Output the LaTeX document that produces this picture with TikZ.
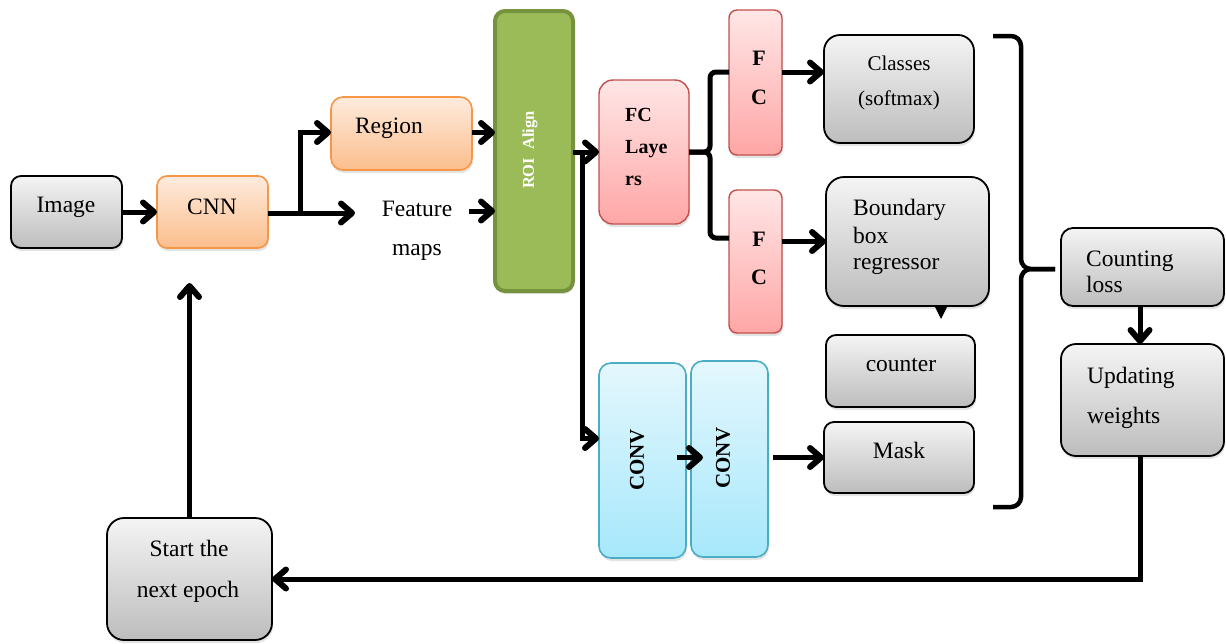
\documentclass[tikz,border=0pt]{standalone}
\usepackage{fontspec}
\setmainfont{Liberation Serif}
\usetikzlibrary{arrows.meta,shadows}

% A rounded box given by its two corners (in pixel-like units) and a corner radius
\newcommand\boxnode[7]{%
  \node[#2, rounded corners=#7, minimum width={(#5)-(#3)}, minimum height={(#6)-(#4)}]
    (#1) at ({((#3)+(#5))/2},{((#4)+(#6))/2}) {};}

\definecolor{grayT}{HTML}{F4F4F4}
\definecolor{grayB}{HTML}{BDBDBD}
\definecolor{orT}{HTML}{FEEBDD}
\definecolor{orB}{HTML}{FBBE8C}
\definecolor{orD}{HTML}{F79646}
\definecolor{roiF}{HTML}{9BBB59}
\definecolor{roiD}{HTML}{76923C}
\definecolor{pkT}{HTML}{FFE6E6}
\definecolor{pkB}{HTML}{FFA6A6}
\definecolor{pkD}{HTML}{C0504D}
\definecolor{cyT}{HTML}{E4F7FD}
\definecolor{cyB}{HTML}{A6E8FB}
\definecolor{cyD}{HTML}{4BACC6}

\begin{document}
\begin{tikzpicture}[x=1pt,y=-1pt,
  base/.style={draw, inner sep=0pt, outer sep=0pt,
    drop shadow={opacity=0.22, shadow xshift=1pt, shadow yshift=-3pt}},
  graybox/.style={base, line width=1.8pt, draw=black, top color=grayT, bottom color=grayB},
  orbox/.style={base, line width=1.6pt, draw=orD, top color=orT, bottom color=orB},
  roibox/.style={base, line width=4pt, draw=roiD, fill=roiF},
  pkbox/.style={base, line width=1.4pt, draw=pkD, top color=pkT, bottom color=pkB},
  cybox/.style={base, line width=1.6pt, draw=cyD, top color=cyT, bottom color=cyB},
  txt/.style={inner sep=0pt, font=\fontsize{23.5}{28}\selectfont},
  stxt/.style={inner sep=0pt, font=\fontsize{21}{25}\selectfont},
  btxt/.style={inner sep=0pt, font=\bfseries\fontsize{20}{22}\selectfont},
  ftxt/.style={inner sep=0pt, font=\bfseries\fontsize{22}{24}\selectfont},
  vtxt/.style={inner sep=0pt, font=\bfseries\fontsize{21}{23}\selectfont, rotate=90},
  line/.style={line width=5pt, draw=black},
  arr/.style={line, -{Straight Barb[length=11pt,width=19pt,line width=0pt 1.2,round]}},
  brace/.style={line width=4.5pt, rounded corners=10pt}
]
\useasboundingbox (0,0) rectangle (1226,643);

% ---- boxes ----
\boxnode{img}{graybox}{11}{176}{122}{248}{10pt}
\boxnode{cnn}{orbox}{157}{176}{268}{248}{10pt}
\boxnode{region}{orbox}{331}{97}{472}{170}{12pt}
\boxnode{roi}{roibox}{495}{11}{573}{291}{10pt}
\boxnode{fcl}{pkbox}{599}{80}{689}{224}{14pt}
\boxnode{fca}{pkbox}{729}{10}{782}{155}{8pt}
\boxnode{fcb}{pkbox}{729}{190}{782}{333}{8pt}
\boxnode{classes}{graybox}{824}{35}{974}{143}{16pt}
\boxnode{bbox}{graybox}{826}{177}{989}{306}{18pt}
\boxnode{counter}{graybox}{826}{335}{975}{407}{10pt}
\boxnode{mask}{graybox}{824}{422}{974}{493}{10pt}
\boxnode{count}{graybox}{1061}{228}{1224}{306}{12pt}
\boxnode{upd}{graybox}{1061}{344}{1224}{456}{15pt}
\boxnode{start}{graybox}{107}{518}{272}{640}{17pt}
\boxnode{conva}{cybox}{599}{363}{686}{558}{12pt}
\boxnode{convb}{cybox}{691}{361}{768}{557}{12pt}

% callout pointer under the regressor box
\fill (934,305) -- (948,305) -- (941,319) -- cycle;

% ---- texts ----
\node[txt, anchor=base] (timg) at (66,212) {Image};
\node[txt, anchor=base] (tcnn) at (212,214) {CNN};
\node[txt, anchor=base] (treg) at (389,133) {Region};
\node[txt, anchor=base] (tfeat) at (417,216) {Feature};
\node[txt, anchor=base] (tmaps) at (417,255) {maps};
\node[inner sep=0pt, font=\bfseries\fontsize{16.5}{18}\selectfont, text=white, rotate=90]
  (troi) at (530,150) {ROI\ \ Align};
\node[btxt, anchor=base west] (tfc1) at (625,121) {FC};
\node[btxt, anchor=base west] (tfc2) at (625,153) {Laye};
\node[btxt, anchor=base west] (tfc3) at (625,185) {rs};
\node[ftxt, anchor=base] (tfa1) at (759,65) {F};
\node[ftxt, anchor=base] (tfa2) at (759,104) {C};
\node[ftxt, anchor=base] (tfb1) at (759,246) {F};
\node[ftxt, anchor=base] (tfb2) at (759,284) {C};
\node[stxt, anchor=base] (tcls1) at (899,70) {Classes};
\node[stxt, anchor=base] (tcls2) at (899,105) {(softmax)};
\node[txt, anchor=base west] (tbb1) at (853,215) {Boundary};
\node[txt, anchor=base west] (tbb2) at (853,243) {box};
\node[txt, anchor=base west] (tbb3) at (853,269) {regressor};
\node[txt, anchor=base] (tcounter) at (901,371) {counter};
\node[txt, anchor=base] (tmask) at (899,458) {Mask};
\node[txt, anchor=base west] (tcl1) at (1086,266) {Counting};
\node[txt, anchor=base west] (tcl2) at (1086,292) {loss};
\node[txt, anchor=base west] (tup1) at (1087,383) {Updating};
\node[txt, anchor=base west] (tup2) at (1087,423) {weights};
\node[txt, anchor=base] (tst1) at (189,556) {Start the};
\node[txt, anchor=base] (tst2) at (188,597) {next epoch};
\node[vtxt] (tcva) at (637,460) {CONV};
\node[vtxt] (tcvb) at (723,458) {CONV};

% ---- connectors ----
\coordinate (split) at (300,213);
\coordinate (fmtip) at (355,213);
\coordinate (fmout) at (469,211);
\coordinate (rdown) at (582,152);
\coordinate (fork) at (710,152);

\draw[arr] (img.east) -- (cnn.west);
\draw[line] (cnn.east |- split) -- (split);
\draw[arr] (split) |- ([yshift=1pt]region.west);
\draw[arr] (split) -- (fmtip);
\draw[arr] ([yshift=1pt]region.east) -- ([yshift=1pt]region.east -| roi.west);
\draw[arr] (fmout) -- (fmout -| roi.west);
\draw[arr] (roi.east |- fcl.west) -- (fcl.west);
\draw[arr] (rdown) |- ([yshift=22pt]conva.west);
\draw[line, rounded corners=6pt] (fcl.east) -- (fork) |- ([yshift=10.5pt]fca.west);
\draw[line, rounded corners=6pt] (fcl.east) -- (fork) |- ([yshift=23.5pt]fcb.west);
\draw[arr] ([yshift=10.5pt]fca.east) -- ([yshift=10.5pt]fca.east -| classes.west);
\draw[arr] (fcb.east |- bbox.west) -- (bbox.west);
\draw[arr] ([xshift=-9pt]conva.east |- mask.west) -- ([xshift=12pt]convb.west |- mask.west);
\draw[arr] ([xshift=5pt]convb.east |- mask.west) -- (mask.west);
\draw[brace] (993,36) -| (1021,269) -- (1055,269);
\draw[brace] (993,507) -| (1021,269) -- (1055,269);
\draw[arr] (count.south -| 1140,0) -- (upd.north -| 1140,0);
\draw[arr] (upd.south -| 1140,0) |- (start.east);
\draw[arr, shorten >=35pt] (start.north) -- (start.north |- cnn.south);
\end{tikzpicture}
\end{document}
